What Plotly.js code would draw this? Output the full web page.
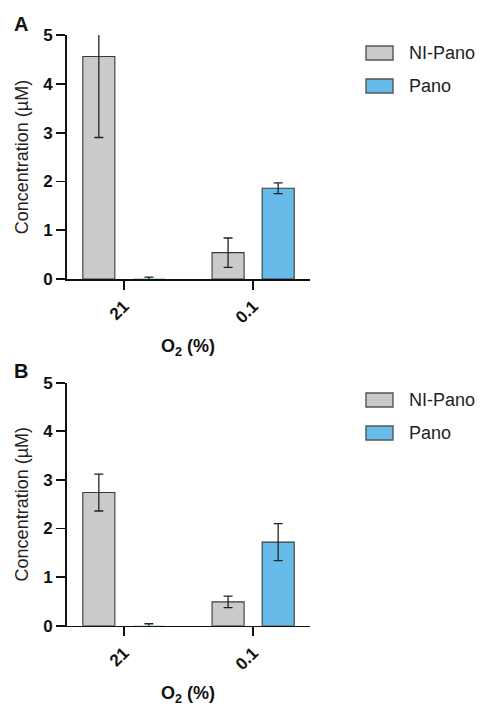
<!DOCTYPE html>
<html>
<head>
<meta charset="utf-8">
<script src="https://cdn.plot.ly/plotly-3.0.1.min.js"></script>
<style>html,body{margin:0;padding:0;background:#fff;}#chart{width:482px;height:706px;}</style>
</head>
<body>
<div id="chart"></div>
<script>
// ---- data ----
const categories = ["21", "0.1"];
const seriesNames = ["NI-Pano", "Pano"];
// Panel A
const aNI = [4.56, 0.54];
const aNIerr = [1.66, 0.30];
const aPano = [0.01, 1.86];
const aPanoErr = [0.03, 0.11];
// Panel B
const bNI = [2.74, 0.49];
const bNIerr = [0.38, 0.12];
const bPano = [0.01, 1.72];
const bPanoErr = [0.03, 0.38];
const yTicks = [0, 1, 2, 3, 4, 5];
const xTitle = "<b>O<sub>2</sub> (%)</b>";
const yTitle = "Concentration (µM)";

const grayFill = "#cacaca";
const blueFill = "#66bbe9";
const edge = "#3a3a3a";
const FONT = "Liberation Sans";

function barTrace(name, y, err, fill, xa, ya, lw) {
  return {
    type: "bar", name: name, x: categories, y: y,
    xaxis: xa, yaxis: ya, showlegend: false,
    marker: {color: fill, line: {color: edge, width: lw}},
    error_y: {type: "data", array: err, visible: true, color: "#222", thickness: 1.3, width: 4.5}
  };
}

const data = [
  barTrace(seriesNames[0], aNI, aNIerr, grayFill, "x", "y", 1.1),
  barTrace(seriesNames[1], aPano, aPanoErr, blueFill, "x", "y", [0, 1.1]),
  barTrace(seriesNames[0], bNI, bNIerr, grayFill, "x2", "y2", 1.1),
  barTrace(seriesNames[1], bPano, bPanoErr, blueFill, "x2", "y2", [0, 1.1])
];

const W = 482, H = 706;
const px = v => v / W;
const py = v => 1 - v / H;

function xAxis(anchor) {
  return {
    domain: [px(67), px(310)], anchor: anchor, type: "category",
    range: [-0.44, 1.44], showgrid: false, zeroline: false,
    showline: true, linecolor: "#111", linewidth: 1.6,
    ticks: "outside", ticklen: 9, tickwidth: 1.8, tickcolor: "#111",
    tickangle: -45, tickfont: {family: FONT, size: 17, color: "#111", weight: "bold"},
    automargin: false, fixedrange: true
  };
}
function yAxis(anchor, top, bottom) {
  return {
    domain: [py(bottom), py(top)], anchor: anchor,
    range: [0, 5], tickvals: yTicks, showgrid: false, zeroline: false,
    showline: true, linecolor: "#111", linewidth: 2,
    ticks: "outside", ticklen: 9, tickwidth: 1.8, tickcolor: "#111",
    tickfont: {family: FONT, size: 17, color: "#111", weight: "bold"},
    automargin: false, fixedrange: true,
    title: {text: yTitle, font: {family: FONT, size: 18, color: "#222"}, standoff: 10}
  };
}

const shapes = [];
const annotations = [];
function legend(topY) {
  const fills = [grayFill, blueFill];
  seriesNames.forEach((n, i) => {
    const cy = topY + i * 33;
    shapes.push({type: "rect", xref: "paper", yref: "paper",
      x0: px(366), x1: px(393), y0: py(cy + 7), y1: py(cy - 7),
      fillcolor: fills[i], line: {color: "#555", width: 1.4}});
    annotations.push({xref: "paper", yref: "paper", x: px(407), y: py(cy),
      xanchor: "left", yanchor: "middle", showarrow: false, text: n,
      font: {family: FONT, size: 18, color: "#222"}});
  });
}
legend(53);
legend(400);
[[347, "A", 24], [694, "B", 371]].forEach(([ty, letter, ly]) => {
  annotations.push({xref: "paper", yref: "paper", x: px(188), y: py(ty), xanchor: "center", yanchor: "middle",
    showarrow: false, text: xTitle, font: {family: FONT, size: 18, color: "#111"}});
  annotations.push({xref: "paper", yref: "paper", x: px(12), y: py(ly), xanchor: "left", yanchor: "middle",
    showarrow: false, text: "<b>" + letter + "</b>", font: {family: FONT, size: 20, color: "#111"}});
});

const layout = {
  width: W, height: H,
  margin: {l: 0, r: 0, t: 0, b: 0},
  paper_bgcolor: "#fff", plot_bgcolor: "#fff",
  font: {family: FONT},
  barmode: "group", bargap: 0.225, bargroupgap: 0.36,
  showlegend: false,
  xaxis: xAxis("y"), yaxis: yAxis("x", 35, 279),
  xaxis2: xAxis("y2"), yaxis2: yAxis("x2", 382.7, 625.7),
  shapes: shapes, annotations: annotations
};

Plotly.newPlot("chart", data, layout, {staticPlot: true, displayModeBar: false});
</script>
</body>
</html>
